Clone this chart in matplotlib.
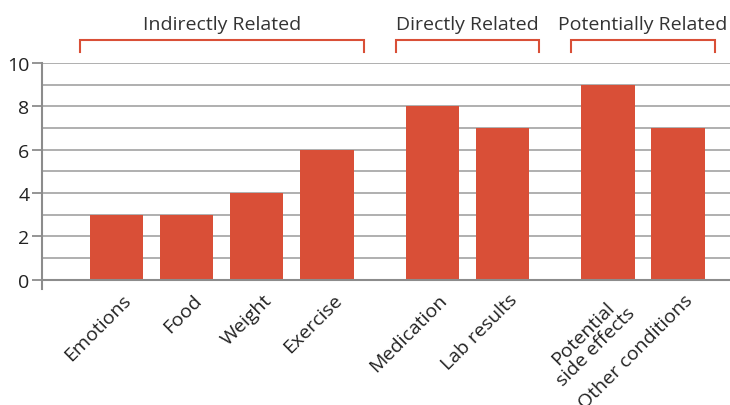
import matplotlib.pyplot as plt
import numpy as np

plt.rcParams['font.family'] = ['Open Sans', 'DejaVu Sans']

categories = ['Emotions', 'Food', 'Weight', 'Exercise',
              'Medication', 'Lab results',
              'Potential\nside effects', 'Other conditions']
values = [3, 3, 4, 6, 8, 7, 9, 7]
groups = ['Indirectly Related', 'Directly Related', 'Potentially Related']
group_members = [(0, 3), (4, 5), (6, 7)]

# slot positions, extra gap between groups
xpos = np.array([0, 1, 2, 3, 4.5, 5.5, 7, 8])

red = '#d94f37'
grid = '#a9a9a9'

fig = plt.figure(figsize=(7.3, 4.06), dpi=100)
ax = fig.add_axes([0.0575, 0.286, 0.9425, 0.556])

for y in range(1, 11):
    ax.axhline(y, color=grid, lw=1.3, zorder=0)
ax.axhline(0, color='#8c8c8c', lw=1.5, zorder=3)

ax.bar(xpos, values, width=0.76, color=red, zorder=2)

ax.set_xlim(-1.06, 8.74)
ax.set_ylim(-0.42, 10)
ax.set_yticks(range(0, 11, 2))
ax.tick_params(axis='y', length=7, width=1.3, color='#8c8c8c', labelsize=14, pad=2, labelcolor='#222222')
for s in ['top', 'right', 'bottom']:
    ax.spines[s].set_visible(False)
ax.spines['left'].set_color('#8c8c8c')
ax.spines['left'].set_linewidth(1.5)

ax.set_xticks(xpos + 0.08)
ax.set_xticklabels(categories, rotation=45, ha='right', va='top',
                   rotation_mode='anchor', fontsize=14, color='#222222',
                   multialignment='center', linespacing=1.0)
ax.tick_params(axis='x', length=0, pad=1)

# group brackets above the plot
for name, (a, b) in zip(groups, group_members):
    x0 = xpos[a] - 0.52
    x1 = xpos[b] + 0.52
    ax.plot([x0, x0, x1, x1], [10.5, 11.05, 11.05, 10.5], color=red, lw=1.5,
            clip_on=False, solid_joinstyle='miter')
    ax.text((x0 + x1) / 2, 11.4, name, ha='center', va='bottom', fontsize=14,
            color='#333333', clip_on=False)

fig.savefig('out.png', dpi=100)
